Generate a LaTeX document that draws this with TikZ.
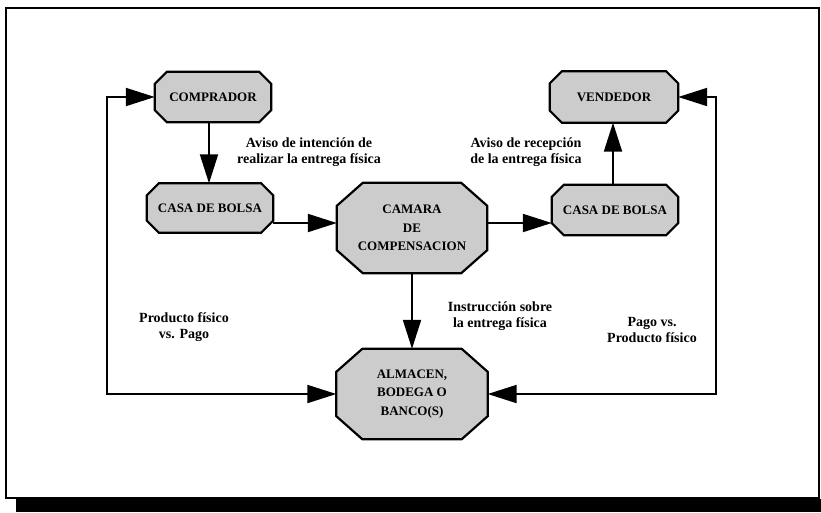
\documentclass[tikz,border=0pt]{standalone}
\usepackage{fontspec}
\setmainfont{Liberation Serif}
\usepackage{tikz}
\usetikzlibrary{arrows.meta,calc,backgrounds}
\tikzset{
	box/.style={rectangle,inner sep=0pt,align=center,font=\bfseries\fontsize{13}{18.5}\selectfont},
	octline/.style={draw,line width=2.2pt,fill=black!20,line join=miter},
	arr/.style={-{Triangle[length=29pt,width=18pt]},line width=2pt},
	dblarr/.style={{Triangle[length=29pt,width=18pt]}-{Triangle[length=29pt,width=18pt]},line width=2pt},
	note/.style={align=center,font=\bfseries\fontsize{14}{16.5}\selectfont}
}
\newcommand{\octagon}[3]{\filldraw[octline] ($(#1.north west)+(#2,0)$) -- ($(#1.north east)+(-#2,0)$) -- ($(#1.north east)+(0,#3)$) -- ($(#1.south east)+(0,-#3)$) -- ($(#1.south east)+(-#2,0)$) -- ($(#1.south west)+(#2,0)$) -- ($(#1.south west)+(0,-#3)$) -- ($(#1.north west)+(0,#3)$) -- cycle;}
\begin{document}
\begin{tikzpicture}[x=1pt,y=-1pt]
	\useasboundingbox (0,0) rectangle (821,512);
	\draw[line width=2pt] (6,8) rectangle (819,498);
	\fill[black] (16,499) rectangle (821,512);
	\node[box,minimum width=116pt,minimum height=50pt] (comprador) at (213,97) {COMPRADOR};
	\node[box,minimum width=128pt,minimum height=51pt] (vendedor) at (614,97) {VENDEDOR};
	\node[box,minimum width=126pt,minimum height=49pt] (casaL) at (210,208) {CASA DE BOLSA};
	\node[box,minimum width=126pt,minimum height=50pt] (casaR) at (615,210) {CASA DE BOLSA};
	\node[box,minimum width=150pt,minimum height=90pt] (camara) at (412,228) {CAMARA\\DE\\COMPENSACION};
	\node[box,minimum width=151pt,minimum height=90pt] (almacen) at (412,394) {ALMACEN,\\BODEGA O\\BANCO(S)};
	\begin{scope}[on background layer]
		\octagon{comprador}{12}{12}
		\octagon{vendedor}{12}{12}
		\octagon{casaL}{12}{12}
		\octagon{casaR}{12}{12}
		\octagon{camara}{26}{23}
		\octagon{almacen}{26}{23}
	\end{scope}
	\coordinate (lc) at (107,250);
	\coordinate (rc) at (716,250);
	\draw[arr] (comprador.south -| 209,0) -- (casaL.north -| 209,0);
	\draw[arr] (casaL.east |- 0,223) -- (camara.west |- 0,223);
	\draw[arr] (camara.east |- 0,223) -- (casaR.west |- 0,223);
	\draw[arr] (casaR.north -| 613,0) -- (vendedor.south -| 613,0);
	\draw[arr] (camara.south) -- (almacen.north);
	\draw[dblarr] (comprador.west) -| (lc) |- (almacen.west);
	\draw[dblarr] (vendedor.east) -| (rc) |- (almacen.east);
	\node[note] (avisoI) at (309,152) {Aviso de intención de\\realizar la entrega física};
	\node[note] (avisoR) at (526,152) {Aviso de recepción\\de la entrega física};
	\node[note] (instr) at (500,316) {Instrucción sobre\\la entrega física};
	\node[note] (prodL) at (184,327) {Producto físico\\vs. Pago};
	\node[note] (pagoR) at (652,330) {Pago vs.\\Producto físico};
\end{tikzpicture}
\end{document}
